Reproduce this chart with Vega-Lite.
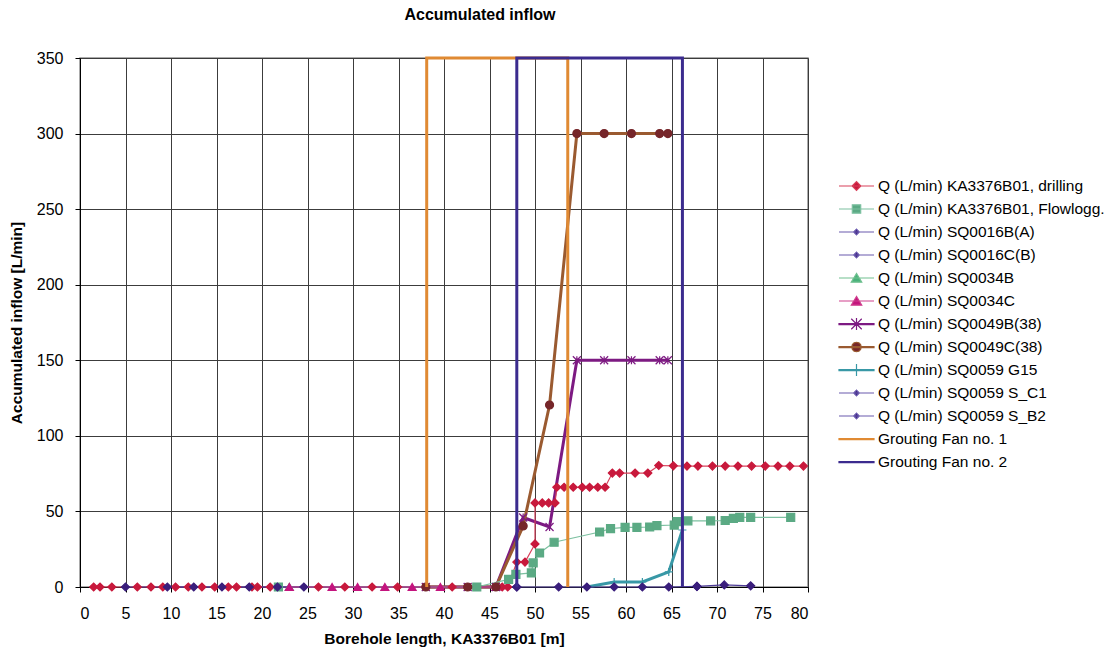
{
  "$schema": "https://vega.github.io/schema/vega-lite/v6.json",
  "width": 728,
  "height": 529,
  "autosize": "none",
  "padding": {"left": 80, "top": 58, "right": 302, "bottom": 68},
  "title": {"text": "Accumulated inflow", "fontSize": 16, "fontWeight": "bold", "font": "Liberation Sans", "offset": 27, "dx": 36, "color": "#000"},
  "data": {"values": [
    {"series": "Q (L/min) KA3376B01, drilling", "x": 1.5, "y": 0},
    {"series": "Q (L/min) KA3376B01, drilling", "x": 2.2, "y": 0},
    {"series": "Q (L/min) KA3376B01, drilling", "x": 3.5, "y": 0},
    {"series": "Q (L/min) KA3376B01, drilling", "x": 6.3, "y": 0},
    {"series": "Q (L/min) KA3376B01, drilling", "x": 7.8, "y": 0},
    {"series": "Q (L/min) KA3376B01, drilling", "x": 9.1, "y": 0},
    {"series": "Q (L/min) KA3376B01, drilling", "x": 10.5, "y": 0},
    {"series": "Q (L/min) KA3376B01, drilling", "x": 11.9, "y": 0},
    {"series": "Q (L/min) KA3376B01, drilling", "x": 13.4, "y": 0},
    {"series": "Q (L/min) KA3376B01, drilling", "x": 14.8, "y": 0},
    {"series": "Q (L/min) KA3376B01, drilling", "x": 16.3, "y": 0},
    {"series": "Q (L/min) KA3376B01, drilling", "x": 17.2, "y": 0},
    {"series": "Q (L/min) KA3376B01, drilling", "x": 18.9, "y": 0},
    {"series": "Q (L/min) KA3376B01, drilling", "x": 19.5, "y": 0},
    {"series": "Q (L/min) KA3376B01, drilling", "x": 20.9, "y": 0},
    {"series": "Q (L/min) KA3376B01, drilling", "x": 26.2, "y": 0},
    {"series": "Q (L/min) KA3376B01, drilling", "x": 29.1, "y": 0},
    {"series": "Q (L/min) KA3376B01, drilling", "x": 32.1, "y": 0},
    {"series": "Q (L/min) KA3376B01, drilling", "x": 34.9, "y": 0},
    {"series": "Q (L/min) KA3376B01, drilling", "x": 40.9, "y": 0},
    {"series": "Q (L/min) KA3376B01, drilling", "x": 46.4, "y": 0},
    {"series": "Q (L/min) KA3376B01, drilling", "x": 47.0, "y": 0},
    {"series": "Q (L/min) KA3376B01, drilling", "x": 48.0, "y": 16.5},
    {"series": "Q (L/min) KA3376B01, drilling", "x": 48.9, "y": 16.5},
    {"series": "Q (L/min) KA3376B01, drilling", "x": 50.0, "y": 28.5},
    {"series": "Q (L/min) KA3376B01, drilling", "x": 50.0, "y": 55.6},
    {"series": "Q (L/min) KA3376B01, drilling", "x": 50.8, "y": 55.6},
    {"series": "Q (L/min) KA3376B01, drilling", "x": 51.5, "y": 55.6},
    {"series": "Q (L/min) KA3376B01, drilling", "x": 52.2, "y": 55.6},
    {"series": "Q (L/min) KA3376B01, drilling", "x": 52.4, "y": 66},
    {"series": "Q (L/min) KA3376B01, drilling", "x": 53.2, "y": 66},
    {"series": "Q (L/min) KA3376B01, drilling", "x": 54.2, "y": 66},
    {"series": "Q (L/min) KA3376B01, drilling", "x": 55.2, "y": 66},
    {"series": "Q (L/min) KA3376B01, drilling", "x": 56.0, "y": 66},
    {"series": "Q (L/min) KA3376B01, drilling", "x": 56.9, "y": 66},
    {"series": "Q (L/min) KA3376B01, drilling", "x": 57.7, "y": 66},
    {"series": "Q (L/min) KA3376B01, drilling", "x": 58.5, "y": 75.4},
    {"series": "Q (L/min) KA3376B01, drilling", "x": 59.3, "y": 75.4},
    {"series": "Q (L/min) KA3376B01, drilling", "x": 61.0, "y": 75.4},
    {"series": "Q (L/min) KA3376B01, drilling", "x": 62.4, "y": 75.4},
    {"series": "Q (L/min) KA3376B01, drilling", "x": 63.6, "y": 80.4},
    {"series": "Q (L/min) KA3376B01, drilling", "x": 65.2, "y": 80.2},
    {"series": "Q (L/min) KA3376B01, drilling", "x": 66.7, "y": 80},
    {"series": "Q (L/min) KA3376B01, drilling", "x": 67.9, "y": 80},
    {"series": "Q (L/min) KA3376B01, drilling", "x": 69.5, "y": 80},
    {"series": "Q (L/min) KA3376B01, drilling", "x": 70.9, "y": 80},
    {"series": "Q (L/min) KA3376B01, drilling", "x": 72.3, "y": 80},
    {"series": "Q (L/min) KA3376B01, drilling", "x": 73.8, "y": 80},
    {"series": "Q (L/min) KA3376B01, drilling", "x": 75.3, "y": 80},
    {"series": "Q (L/min) KA3376B01, drilling", "x": 76.7, "y": 80},
    {"series": "Q (L/min) KA3376B01, drilling", "x": 78.0, "y": 80},
    {"series": "Q (L/min) KA3376B01, drilling", "x": 79.5, "y": 80},
    {"series": "Q (L/min) KA3376B01, Flowlogg.", "x": 21.8, "y": 0},
    {"series": "Q (L/min) KA3376B01, Flowlogg.", "x": 43.6, "y": 0},
    {"series": "Q (L/min) KA3376B01, Flowlogg.", "x": 47.1, "y": 5},
    {"series": "Q (L/min) KA3376B01, Flowlogg.", "x": 47.9, "y": 8.3},
    {"series": "Q (L/min) KA3376B01, Flowlogg.", "x": 49.6, "y": 9.3},
    {"series": "Q (L/min) KA3376B01, Flowlogg.", "x": 49.8, "y": 15.9},
    {"series": "Q (L/min) KA3376B01, Flowlogg.", "x": 50.5, "y": 22.5},
    {"series": "Q (L/min) KA3376B01, Flowlogg.", "x": 52.1, "y": 29.6},
    {"series": "Q (L/min) KA3376B01, Flowlogg.", "x": 57.1, "y": 36.4},
    {"series": "Q (L/min) KA3376B01, Flowlogg.", "x": 58.3, "y": 38.6},
    {"series": "Q (L/min) KA3376B01, Flowlogg.", "x": 59.9, "y": 39.5},
    {"series": "Q (L/min) KA3376B01, Flowlogg.", "x": 61.2, "y": 39.5},
    {"series": "Q (L/min) KA3376B01, Flowlogg.", "x": 62.6, "y": 39.7},
    {"series": "Q (L/min) KA3376B01, Flowlogg.", "x": 63.4, "y": 40.6},
    {"series": "Q (L/min) KA3376B01, Flowlogg.", "x": 65.3, "y": 41},
    {"series": "Q (L/min) KA3376B01, Flowlogg.", "x": 65.6, "y": 43.3},
    {"series": "Q (L/min) KA3376B01, Flowlogg.", "x": 66.8, "y": 43.8},
    {"series": "Q (L/min) KA3376B01, Flowlogg.", "x": 69.3, "y": 43.8},
    {"series": "Q (L/min) KA3376B01, Flowlogg.", "x": 70.9, "y": 44},
    {"series": "Q (L/min) KA3376B01, Flowlogg.", "x": 71.8, "y": 45.4},
    {"series": "Q (L/min) KA3376B01, Flowlogg.", "x": 72.5, "y": 46},
    {"series": "Q (L/min) KA3376B01, Flowlogg.", "x": 73.7, "y": 46},
    {"series": "Q (L/min) KA3376B01, Flowlogg.", "x": 78.1, "y": 46},
    {"series": "Q (L/min) SQ0016B(A)", "x": 5.0, "y": 0},
    {"series": "Q (L/min) SQ0016B(A)", "x": 48.0, "y": 0},
    {"series": "Q (L/min) SQ0016C(B)", "x": 9.6, "y": 0},
    {"series": "Q (L/min) SQ0016C(B)", "x": 12.5, "y": 0},
    {"series": "Q (L/min) SQ0016C(B)", "x": 15.6, "y": 0},
    {"series": "Q (L/min) SQ0016C(B)", "x": 18.6, "y": 0},
    {"series": "Q (L/min) SQ0016C(B)", "x": 21.7, "y": 0},
    {"series": "Q (L/min) SQ0016C(B)", "x": 24.6, "y": 0},
    {"series": "Q (L/min) SQ0034B", "x": 23.0, "y": 0},
    {"series": "Q (L/min) SQ0034C", "x": 23.0, "y": 0},
    {"series": "Q (L/min) SQ0034C", "x": 27.7, "y": 0},
    {"series": "Q (L/min) SQ0034C", "x": 30.5, "y": 0},
    {"series": "Q (L/min) SQ0034C", "x": 33.5, "y": 0},
    {"series": "Q (L/min) SQ0034C", "x": 36.5, "y": 0},
    {"series": "Q (L/min) SQ0034C", "x": 39.6, "y": 0},
    {"series": "Q (L/min) SQ0034C", "x": 45.7, "y": 0},
    {"series": "Q (L/min) SQ0049B(38)", "x": 38.0, "y": 0},
    {"series": "Q (L/min) SQ0049B(38)", "x": 42.6, "y": 0},
    {"series": "Q (L/min) SQ0049B(38)", "x": 45.7, "y": 0},
    {"series": "Q (L/min) SQ0049B(38)", "x": 48.7, "y": 46},
    {"series": "Q (L/min) SQ0049B(38)", "x": 51.6, "y": 39.7},
    {"series": "Q (L/min) SQ0049B(38)", "x": 54.6, "y": 150},
    {"series": "Q (L/min) SQ0049B(38)", "x": 57.6, "y": 150},
    {"series": "Q (L/min) SQ0049B(38)", "x": 60.6, "y": 150},
    {"series": "Q (L/min) SQ0049B(38)", "x": 63.7, "y": 150},
    {"series": "Q (L/min) SQ0049B(38)", "x": 64.6, "y": 150},
    {"series": "Q (L/min) SQ0049C(38)", "x": 38.0, "y": 0},
    {"series": "Q (L/min) SQ0049C(38)", "x": 42.6, "y": 0},
    {"series": "Q (L/min) SQ0049C(38)", "x": 45.7, "y": 0},
    {"series": "Q (L/min) SQ0049C(38)", "x": 48.7, "y": 40.4},
    {"series": "Q (L/min) SQ0049C(38)", "x": 51.6, "y": 120.4},
    {"series": "Q (L/min) SQ0049C(38)", "x": 54.6, "y": 300},
    {"series": "Q (L/min) SQ0049C(38)", "x": 57.6, "y": 300},
    {"series": "Q (L/min) SQ0049C(38)", "x": 60.6, "y": 300},
    {"series": "Q (L/min) SQ0049C(38)", "x": 63.7, "y": 300},
    {"series": "Q (L/min) SQ0049C(38)", "x": 64.6, "y": 300},
    {"series": "Q (L/min) SQ0059 G15", "x": 55.7, "y": 0},
    {"series": "Q (L/min) SQ0059 G15", "x": 58.7, "y": 3.3},
    {"series": "Q (L/min) SQ0059 G15", "x": 61.8, "y": 3.3},
    {"series": "Q (L/min) SQ0059 G15", "x": 64.7, "y": 10},
    {"series": "Q (L/min) SQ0059 G15", "x": 66.2, "y": 37.7},
    {"series": "Q (L/min) SQ0059 S_C1", "x": 48.0, "y": 0},
    {"series": "Q (L/min) SQ0059 S_C1", "x": 52.6, "y": 0},
    {"series": "Q (L/min) SQ0059 S_C1", "x": 55.7, "y": 0},
    {"series": "Q (L/min) SQ0059 S_C1", "x": 58.7, "y": 0},
    {"series": "Q (L/min) SQ0059 S_C1", "x": 61.8, "y": 0},
    {"series": "Q (L/min) SQ0059 S_C1", "x": 64.7, "y": 0},
    {"series": "Q (L/min) SQ0059 S_C1", "x": 67.8, "y": 0.4},
    {"series": "Q (L/min) SQ0059 S_B2", "x": 67.8, "y": 0.4},
    {"series": "Q (L/min) SQ0059 S_B2", "x": 70.8, "y": 1.4},
    {"series": "Q (L/min) SQ0059 S_B2", "x": 73.7, "y": 0.8},
    {"series": "Grouting Fan no. 1", "x": 38.1, "y": 0},
    {"series": "Grouting Fan no. 1", "x": 38.1, "y": 350},
    {"series": "Grouting Fan no. 1", "x": 53.6, "y": 350},
    {"series": "Grouting Fan no. 1", "x": 53.6, "y": 0},
    {"series": "Grouting Fan no. 2", "x": 48.0, "y": 0},
    {"series": "Grouting Fan no. 2", "x": 48.0, "y": 350},
    {"series": "Grouting Fan no. 2", "x": 66.2, "y": 350},
    {"series": "Grouting Fan no. 2", "x": 66.2, "y": 0}
  ]},
  "encoding": {
    "x": {"field": "x", "type": "quantitative", "scale": {"domain": [0, 80], "nice": false, "zero": false},
      "axis": {"values": [0,5,10,15,20,25,30,35,40,45,50,55,60,65,70,75,80], "title": "Borehole length, KA3376B01 [m]", "labelPadding": 13, "titlePadding": 10}},
    "y": {"field": "y", "type": "quantitative", "scale": {"domain": [0, 350], "nice": false},
      "axis": {"values": [0,50,100,150,200,250,300,350], "title": "Accumulated inflow [L/min]", "labelPadding": 12, "titlePadding": 12}}
  },
  "layer": [
    {
      "transform": [{"filter": "indexof(datum.series, 'Grouting') < 0 && (indexof(datum.series, 'SQ0049') >= 0 || indexof(datum.series, 'G15') >= 0)"}],
      "mark": {"type": "line", "clip": false, "strokeWidth": 3},
      "encoding": {
        "order": {"value": null},
        "color": {"field": "series", "type": "nominal", "legend": null,
          "scale": {"domain": ["Q (L/min) SQ0049B(38)","Q (L/min) SQ0049C(38)","Q (L/min) SQ0059 G15"],
            "range": ["#7D1A82","#9A5A30","#3898A6"]}}
      }
    },
    {
      "transform": [{"filter": "indexof(datum.series, 'Grouting') < 0 && indexof(datum.series, 'SQ0049') < 0 && indexof(datum.series, 'G15') < 0"}],
      "mark": {"type": "line", "clip": false, "strokeWidth": 1.2},
      "encoding": {
        "order": {"value": null},
        "color": {"field": "series", "type": "nominal", "legend": null,
          "scale": {"domain": ["Q (L/min) KA3376B01, drilling","Q (L/min) KA3376B01, Flowlogg.","Q (L/min) SQ0016B(A)","Q (L/min) SQ0016C(B)","Q (L/min) SQ0034B","Q (L/min) SQ0034C","Q (L/min) SQ0059 S_C1","Q (L/min) SQ0059 S_B2"],
            "range": ["#D8405A","#7CC0A0","#4E3C98","#4E3C98","#70C090","#D0408E","#4E3C98","#4E3C98"]}}
      }
    },
    {
      "transform": [{"filter": "indexof(datum.series, 'Grouting') < 0"}],
      "mark": {"type": "point", "filled": true, "opacity": 1, "strokeWidth": 1.2, "clip": false},
      "encoding": {
        "fill": {"field": "series", "type": "nominal", "legend": null,
          "scale": {"domain": ["Q (L/min) KA3376B01, drilling","Q (L/min) KA3376B01, Flowlogg.","Q (L/min) SQ0016B(A)","Q (L/min) SQ0016C(B)","Q (L/min) SQ0034B","Q (L/min) SQ0034C","Q (L/min) SQ0049B(38)","Q (L/min) SQ0049C(38)","Q (L/min) SQ0059 G15","Q (L/min) SQ0059 S_C1","Q (L/min) SQ0059 S_B2","Grouting Fan no. 1","Grouting Fan no. 2"],
            "range": ["#C8193C","#5BAA84","#3A1E7C","#3A1E7C","#49B27A","#C4147E","#7D1A82","#76262A","#3898A6","#3A1E7C","#3A1E7C","#E08A33","#3B2B8E"]}},
        "stroke": {"field": "series", "type": "nominal", "legend": null,
          "scale": {"domain": ["Q (L/min) KA3376B01, drilling","Q (L/min) KA3376B01, Flowlogg.","Q (L/min) SQ0016B(A)","Q (L/min) SQ0016C(B)","Q (L/min) SQ0034B","Q (L/min) SQ0034C","Q (L/min) SQ0049B(38)","Q (L/min) SQ0049C(38)","Q (L/min) SQ0059 G15","Q (L/min) SQ0059 S_C1","Q (L/min) SQ0059 S_B2","Grouting Fan no. 1","Grouting Fan no. 2"],
            "range": ["#C8193C","#5BAA84","#3A1E7C","#3A1E7C","#49B27A","#C4147E","#7D1A82","#76262A","#3898A6","#3A1E7C","#3A1E7C","#E08A33","#3B2B8E"]}},
        "shape": {"field": "series", "type": "nominal", "legend": null,
          "scale": {"domain": ["Q (L/min) KA3376B01, drilling","Q (L/min) KA3376B01, Flowlogg.","Q (L/min) SQ0016B(A)","Q (L/min) SQ0016C(B)","Q (L/min) SQ0034B","Q (L/min) SQ0034C","Q (L/min) SQ0049B(38)","Q (L/min) SQ0049C(38)","Q (L/min) SQ0059 G15","Q (L/min) SQ0059 S_C1","Q (L/min) SQ0059 S_B2","Grouting Fan no. 1","Grouting Fan no. 2"],
            "range": ["diamond","square","diamond","diamond","triangle-up","triangle-up","M-1,-1L1,1M-1,1L1,-1M0,-1L0,1","circle","M-1,0L1,0M0,-1L0,1","diamond","diamond","circle","circle"]}},
        "size": {"field": "series", "type": "ordinal", "legend": null,
          "scale": {"domain": ["Q (L/min) KA3376B01, drilling","Q (L/min) KA3376B01, Flowlogg.","Q (L/min) SQ0016B(A)","Q (L/min) SQ0016C(B)","Q (L/min) SQ0034B","Q (L/min) SQ0034C","Q (L/min) SQ0049B(38)","Q (L/min) SQ0049C(38)","Q (L/min) SQ0059 G15","Q (L/min) SQ0059 S_C1","Q (L/min) SQ0059 S_B2","Grouting Fan no. 1","Grouting Fan no. 2"],
            "range": [64, 64, 121, 30, 110, 110, 130, 121, 130, 30, 30, 10, 10]}}
      }
    },
    {
      "transform": [{"filter": "indexof(datum.series, 'Grouting') >= 0"}],
      "mark": {"type": "line", "clip": false, "strokeWidth": 3},
      "encoding": {
        "order": {"value": null},
        "color": {"field": "series", "type": "nominal", "legend": null,
          "scale": {"domain": ["Grouting Fan no. 1","Grouting Fan no. 2"], "range": ["#E08A33","#3B2B8E"]}}
      }
    },
    {
      "transform": [{"filter": "false"}],
      "mark": {"type": "point", "filled": true, "opacity": 1, "strokeWidth": 1.2},
      "encoding": {
        "fill": {"field": "series", "type": "nominal",
          "legend": {"title": null, "labelFontSize": 15.5},
          "scale": {"domain": ["Q (L/min) KA3376B01, drilling","Q (L/min) KA3376B01, Flowlogg.","Q (L/min) SQ0016B(A)","Q (L/min) SQ0016C(B)","Q (L/min) SQ0034B","Q (L/min) SQ0034C","Q (L/min) SQ0049B(38)","Q (L/min) SQ0049C(38)","Q (L/min) SQ0059 G15","Q (L/min) SQ0059 S_C1","Q (L/min) SQ0059 S_B2","Grouting Fan no. 1","Grouting Fan no. 2"],
            "range": ["#C8193C","#5BAA84","#3A1E7C","#3A1E7C","#49B27A","#C4147E","#7D1A82","#76262A","#3898A6","#3A1E7C","#3A1E7C","#E08A33","#3B2B8E"]}},
        "stroke": {"field": "series", "type": "nominal",
          "legend": {"title": null, "labelFontSize": 15.5},
          "scale": {"domain": ["Q (L/min) KA3376B01, drilling","Q (L/min) KA3376B01, Flowlogg.","Q (L/min) SQ0016B(A)","Q (L/min) SQ0016C(B)","Q (L/min) SQ0034B","Q (L/min) SQ0034C","Q (L/min) SQ0049B(38)","Q (L/min) SQ0049C(38)","Q (L/min) SQ0059 G15","Q (L/min) SQ0059 S_C1","Q (L/min) SQ0059 S_B2","Grouting Fan no. 1","Grouting Fan no. 2"],
            "range": ["#D8405A","#7CC0A0","#6A5AAE","#6A5AAE","#70C090","#D0408E","#7D1A82","#9A5A30","#3898A6","#6A5AAE","#6A5AAE","#E08A33","#3B2B8E"]}},
        "shape": {"field": "series", "type": "nominal",
          "legend": {"title": null, "labelFontSize": 15.5},
          "scale": {"domain": ["Q (L/min) KA3376B01, drilling","Q (L/min) KA3376B01, Flowlogg.","Q (L/min) SQ0016B(A)","Q (L/min) SQ0016C(B)","Q (L/min) SQ0034B","Q (L/min) SQ0034C","Q (L/min) SQ0049B(38)","Q (L/min) SQ0049C(38)","Q (L/min) SQ0059 G15","Q (L/min) SQ0059 S_C1","Q (L/min) SQ0059 S_B2","Grouting Fan no. 1","Grouting Fan no. 2"],
            "range": [
              "M-1,0L1,0M-0.25,0L0,-0.25L0.25,0L0,0.25Z",
              "M-1,0L1,0M-0.24,-0.24L0.24,-0.24L0.24,0.24L-0.24,0.24Z",
              "M-1,0L1,0M-0.16,0L0,-0.16L0.16,0L0,0.16Z",
              "M-1,0L1,0M-0.16,0L0,-0.16L0.16,0L0,0.16Z",
              "M-1,0L1,0M0,-0.26L-0.3,0.24L0.3,0.24Z",
              "M-1,0L1,0M0,-0.26L-0.3,0.24L0.3,0.24Z",
              "M-1,-0.03L1,-0.03L1,0.03L-1,0.03ZM-0.3,-0.3L0.3,0.3M-0.3,0.3L0.3,-0.3M0,-0.34L0,0.34",
              "M-1,-0.03L1,-0.03L1,0.03L-1,0.03ZM0.27,0L0.234,0.135L0.135,0.234L0,0.27L-0.135,0.234L-0.234,0.135L-0.27,0L-0.234,-0.135L-0.135,-0.234L0,-0.27L0.135,-0.234L0.234,-0.135Z",
              "M-1,-0.03L1,-0.03L1,0.03L-1,0.03ZM0,-0.34L0,0.34",
              "M-1,0L1,0M-0.16,0L0,-0.16L0.16,0L0,0.16Z",
              "M-1,0L1,0M-0.16,0L0,-0.16L0.16,0L0,0.16Z",
              "M-1,-0.03L1,-0.03L1,0.03L-1,0.03Z",
              "M-1,-0.03L1,-0.03L1,0.03L-1,0.03Z"]}}
      }
    }
  ],
  "resolve": {"scale": {"color": "independent", "fill": "independent", "stroke": "independent", "shape": "independent", "size": "independent", "strokeWidth": "independent"}},
  "config": {
    "font": "Liberation Sans",
    "background": "#ffffff",
    "view": {"stroke": "#909090", "strokeWidth": 1.5},
    "axis": {"labelFont": "Liberation Sans", "labelFontSize": 16, "labelColor": "#000", "titleFont": "Liberation Sans", "titleFontSize": 15.5, "titleFontWeight": "bold", "titleColor": "#000", "domainColor": "#000", "tickColor": "#000", "tickSize": 5, "gridColor": "#3c3c3c", "gridOpacity": 1, "gridWidth": 1},
    "legend": {"orient": "none", "legendX": 758, "legendY": 118, "labelFont": "Liberation Sans", "labelFontSize": 15.5, "labelColor": "#000", "labelLimit": 400, "symbolSize": 1225, "symbolStrokeWidth": 1.2, "clipHeight": 20, "rowPadding": 3, "labelOffset": 3, "padding": 0}
  }
}
